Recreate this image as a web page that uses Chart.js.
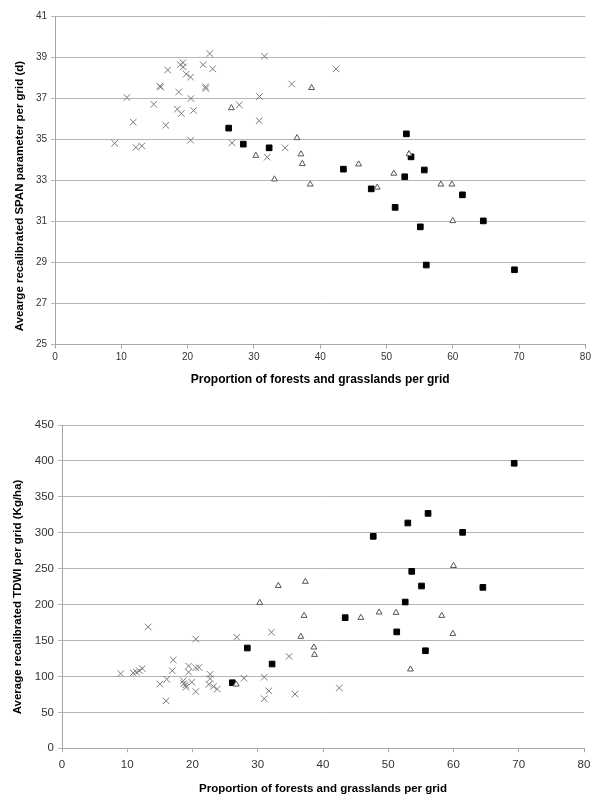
<!DOCTYPE html>
<html>
<head>
<meta charset="utf-8">
<script src="https://cdn.jsdelivr.net/npm/chart.js@4.4.1/dist/chart.umd.min.js"></script>
<style>
  html, body { margin: 0; padding: 0; background: #fff; }
  .box { position: relative; width: 591px; }
  #b1 { height: 395px; }
  #b2 { height: 401px; }
</style>
</head>
<body>
<div class="box" id="b1"><canvas id="c1"></canvas></div>
<div class="box" id="b2"><canvas id="c2"></canvas></div>
<script>
// ---------- data ----------
const xTicks = [0, 10, 20, 30, 40, 50, 60, 70, 80];
const spanTicks = [25, 27, 29, 31, 33, 35, 37, 39, 41];
const tdwiTicks = [0, 50, 100, 150, 200, 250, 300, 350, 400, 450];

const xTitle = "Proportion of forests and grasslands per grid";
const spanTitle = "Avearge recalibrated SPAN parameter per grid (d)";
const tdwiTitle = "Average recalibrated TDWI per grid (Kg/ha)";

// SPAN chart (top)
const spanCrossX = [9.0, 10.85, 11.8, 12.2, 13.1, 14.9, 15.8, 15.95, 16.7, 17.0, 18.45, 18.65, 18.9, 19.05, 19.3, 19.35, 19.8, 20.45, 20.5, 20.45, 20.9, 22.35, 22.7, 22.75, 23.35, 23.78, 26.7, 27.8, 30.85, 30.8, 31.6, 32.0, 34.7, 35.7, 42.4];
const spanCrossY = [34.8, 37.03, 35.83, 34.6, 34.67, 36.7, 37.58, 37.54, 35.68, 38.37, 36.46, 37.3, 38.63, 36.25, 38.73, 38.52, 38.17, 38.02, 36.98, 34.95, 36.4, 38.63, 37.55, 37.47, 39.17, 38.43, 34.82, 36.67, 37.08, 35.9, 39.04, 34.12, 34.58, 37.69, 38.42];
const spanTriX = [26.6, 30.3, 33.1, 36.5, 37.1, 37.3, 38.5, 38.7, 45.8, 48.6, 51.1, 53.4, 58.2, 59.85, 60.0];
const spanTriY = [36.52, 34.2, 33.05, 35.06, 34.27, 33.8, 32.8, 37.5, 33.78, 32.65, 33.33, 34.28, 32.8, 32.8, 31.02];
const spanSqX = [26.2, 28.4, 32.3, 43.5, 47.7, 51.3, 52.75, 53.0, 53.7, 55.1, 55.7, 56.0, 61.45, 64.6, 69.3];
const spanSqY = [35.54, 34.76, 34.58, 33.54, 32.58, 31.68, 33.17, 35.26, 34.14, 30.73, 33.5, 28.87, 32.29, 31.02, 28.64];

// TDWI chart (bottom)
const tdwiCrossX = [9.0, 10.9, 11.4, 11.85, 12.3, 13.2, 15.0, 15.95, 16.05, 16.9, 17.05, 18.6, 18.65, 18.95, 19.0, 19.4, 19.4, 19.9, 20.5, 20.5, 21.0, 20.5, 22.5, 22.7, 22.7, 23.2, 23.8, 26.8, 27.9, 31.0, 31.0, 31.7, 32.1, 34.8, 35.7, 42.5];
const tdwiCrossY = [104, 105, 106, 108, 111, 169, 89.5, 66, 96, 108, 123, 94, 90, 88, 85, 114.5, 106, 92, 152, 112, 112.5, 79, 89, 103, 97, 86, 82.5, 154.5, 97.5, 99, 69, 80, 161.5, 128, 75.5, 84];
const tdwiTriX = [26.7, 30.3, 33.15, 36.6, 37.1, 37.3, 38.6, 38.7, 45.8, 48.6, 51.2, 53.4, 58.2, 59.9, 60.0];
const tdwiTriY = [89, 202.6, 226.3, 155.5, 184.6, 232, 140.6, 130.3, 181.8, 189.3, 188.8, 110, 184.6, 159.5, 254];
const tdwiSqX = [26.1, 28.4, 32.2, 43.4, 47.7, 51.3, 52.6, 53.0, 53.6, 55.1, 55.7, 56.1, 61.4, 64.5, 69.3];
const tdwiSqY = [91.3, 139.6, 117.3, 181.8, 295, 162, 203.6, 313.6, 246.3, 225.9, 135.8, 327, 300.6, 224, 396.7];

// ---------- helpers ----------
const pts = (xs, ys) => xs.map((x, i) => ({ x: x, y: ys[i] }));

function datasets(cx, cy, tx, ty, sx, sy) {
  return [
    { label: 'A', data: pts(cx, cy), pointStyle: 'crossRot', pointRadius: 4.6,
      borderColor: '#7a7a7a', backgroundColor: '#7a7a7a', borderWidth: 1, showLine: false },
    { label: 'B', data: pts(tx, ty), pointStyle: 'triangle', pointRadius: 3.4,
      borderColor: '#555555', backgroundColor: '#ffffff', borderWidth: 1, showLine: false },
    { label: 'C', data: pts(sx, sy), pointStyle: 'rect', pointRadius: 4,
      borderColor: '#000000', backgroundColor: '#000000', borderWidth: 1, showLine: false }
  ];
}

function makeChart(id, cfg) {
  const titles = {
    id: 'axisTitles',
    afterDraw(chart) {
      const ctx = chart.ctx;
      const a = chart.chartArea;
      ctx.save();
      ctx.fillStyle = '#000';
      ctx.font = 'bold ' + cfg.xTitleSize + 'px "Liberation Sans", Arial, sans-serif';
      ctx.textAlign = 'center';
      ctx.textBaseline = 'middle';
      ctx.fillText(xTitle, (a.left + a.right) / 2, cfg.xTitleY);
      ctx.font = 'bold ' + cfg.yTitleSize + 'px "Liberation Sans", Arial, sans-serif';
      ctx.translate(cfg.yTitleX, cfg.yTitleY);
      ctx.rotate(-Math.PI / 2);
      ctx.fillText(cfg.yTitle, 0, 0);
      ctx.restore();
    }
  };
  const plotH = cfg.canvasH;
  return new Chart(document.getElementById(id), {
    type: 'scatter',
    data: { datasets: cfg.datasets },
    plugins: [titles],
    options: {
      responsive: true,
      maintainAspectRatio: false,
      animation: false,
      events: [],
      layout: { padding: { top: cfg.top, right: 591 - cfg.right, left: 0, bottom: 0 } },
      plugins: { legend: { display: false }, tooltip: { enabled: false } },
      scales: {
        x: {
          type: 'linear',
          min: xTicks[0], max: xTicks[xTicks.length - 1],
          afterBuildTicks: s => { s.ticks = xTicks.map(v => ({ value: v })); },
          afterFit: s => { s.height = cfg.canvasH - cfg.bottom; s.paddingLeft = 0; s.paddingRight = 0; },
          border: { display: true, color: '#a6a6a6', width: 1 },
          grid: { display: true, drawOnChartArea: false, drawTicks: true, tickLength: 4, color: '#a6a6a6' },
          ticks: { color: '#333', padding: cfg.xTickPad, font: { family: '"Liberation Sans", Arial, sans-serif', size: cfg.tickSize }, maxRotation: 0, autoSkip: false }
        },
        y: {
          type: 'linear',
          min: cfg.yTicks[0], max: cfg.yTicks[cfg.yTicks.length - 1],
          afterBuildTicks: s => { s.ticks = cfg.yTicks.map(v => ({ value: v })); },
          afterFit: s => { s.width = cfg.left; s.paddingTop = 0; s.paddingBottom = 0; },
          border: { display: true, color: '#a6a6a6', width: 1 },
          grid: { display: true, drawOnChartArea: true, drawTicks: true, tickLength: 4, color: '#b5b5b5' },
          ticks: { color: '#333', padding: 4, font: { family: '"Liberation Sans", Arial, sans-serif', size: cfg.tickSize }, autoSkip: false }
        }
      }
    }
  });
}

makeChart('c1', {
  datasets: datasets(spanCrossX, spanCrossY, spanTriX, spanTriY, spanSqX, spanSqY),
  yTicks: spanTicks, yTitle: spanTitle,
  canvasH: 395, left: 55, right: 587, top: 16, bottom: 344.5,
  tickSize: 10, xTickPad: 3,
  xTitleSize: 12, xTitleY: 380,
  yTitleSize: 11.5, yTitleX: 20, yTitleY: 196
});

makeChart('c2', {
  datasets: datasets(tdwiCrossX, tdwiCrossY, tdwiTriX, tdwiTriY, tdwiSqX, tdwiSqY),
  yTicks: tdwiTicks, yTitle: tdwiTitle,
  canvasH: 401, left: 62, right: 584, top: 30, bottom: 353.3,
  tickSize: 11.5, xTickPad: 6,
  xTitleSize: 11.5, xTitleY: 394,
  yTitleSize: 11.5, yTitleX: 18, yTitleY: 202
});
</script>
</body>
</html>
